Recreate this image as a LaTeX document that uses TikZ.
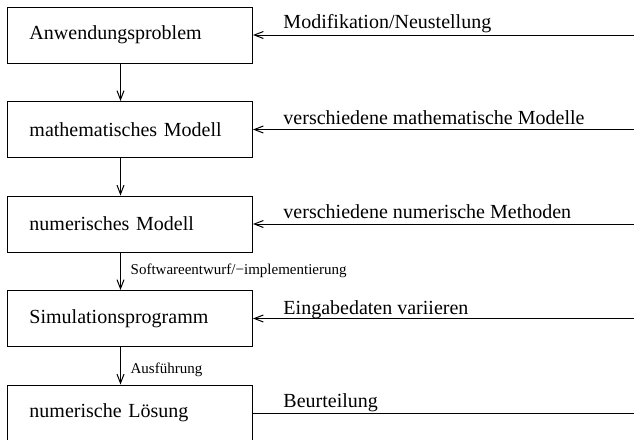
\documentclass[tikz,border=0pt]{standalone}
\usepackage{fontspec}
\setmainfont{Liberation Serif}
\usetikzlibrary{positioning,arrows.meta}

\begin{document}
\begin{tikzpicture}[x=0.5pt,y=-0.5pt,line width=0.5pt,>={Straight Barb[length=4.5pt,width=3.5pt]}]
	\tikzset{stufe/.style={draw,anchor=west,minimum height=28pt,text width=100.5pt,inner xsep=11pt,align=left,font=\fontsize{10pt}{12pt}\selectfont}}
	\tikzset{klein/.style={font=\fontsize{7.5pt}{9pt}\selectfont}}
	\tikzset{zufuhr/.style={anchor=base west,inner sep=0pt,font=\fontsize{10pt}{12pt}\selectfont}}
	\useasboundingbox (0,0) rectangle (634,440);

	%% Stufen der Simulation
	\node[stufe] (b1) at (7,35) {Anwendungsproblem};
	\node[stufe] (b2) at (7,129.5) {mathematisches Modell};
	\node[stufe] (b3) at (7,224) {numerisches Modell};
	\node[stufe] (b4) at (7,318.5) {Simulationsprogramm};
	\node[stufe] (b5) at (7,413) {numerische Lösung};

	%% Pfeile nach unten
	\path[->]
		([xshift=-4.75pt]b1.south) edge ([xshift=-4.75pt]b2.north)
		([xshift=-4.75pt]b2.south) edge ([xshift=-4.75pt]b3.north)
		([xshift=-4.75pt]b3.south) edge node[right=1.5pt,klein] {Softwareentwurf/−implementierung} ([xshift=-4.75pt]b4.north)
		([xshift=-4.75pt]b4.south) edge node[right=1.5pt,pos=0.6,klein] {Ausführung} ([xshift=-4.75pt]b5.north);

	%% Zufuhr von rechts
	\coordinate (rand) at (634,0);
	\foreach \i in {1,...,5}
		\coordinate (q\i) at (b\i.east -| rand);
	\path[->]
		(q1) edge (b1)
		(q2) edge (b2)
		(q3) edge (b3)
		(q4) edge (b4);
	\draw (q5) -- (b5);

	\node[zufuhr] (t1) at ([xshift=15pt,yshift=3.5pt]b1.east) {Modifikation/Neustellung};
	\node[zufuhr] (t2) at ([xshift=15pt,yshift=2.75pt]b2.east) {verschiedene mathematische Modelle};
	\node[zufuhr] (t3) at ([xshift=15pt,yshift=2.75pt]b3.east) {verschiedene numerische Methoden};
	\node[zufuhr] (t4) at ([xshift=15pt,yshift=2.25pt]b4.east) {Eingabedaten variieren};
	\node[zufuhr] (t5) at ([xshift=15pt,yshift=3pt]b5.east) {Beurteilung};
\end{tikzpicture}
\end{document}
